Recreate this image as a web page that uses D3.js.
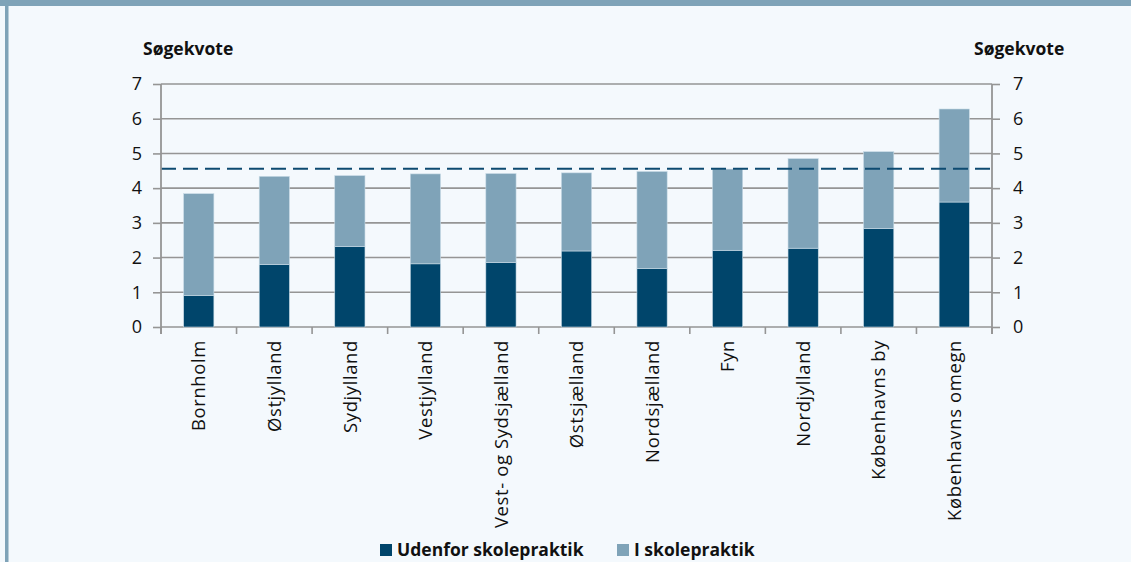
<!DOCTYPE html>
<html>
<head>
<meta charset="utf-8">
<script src="https://cdn.jsdelivr.net/npm/d3@7"></script>
<style>
  html, body { margin: 0; padding: 0; background: #f4f9fd; }
  svg { display: block; }
</style>
</head>
<body>
<svg id="chart" width="1131" height="562"></svg>
<script>
// data
const regions = ["Bornholm", "Østjylland", "Sydjylland", "Vestjylland", "Vest- og Sydsjælland",
  "Østsjælland", "Nordsjælland", "Fyn", "Nordjylland", "Københavns by", "Københavns omegn"];
const udenfor = [0.91, 1.80, 2.32, 1.82, 1.86, 2.19, 1.69, 2.21, 2.27, 2.84, 3.60];
const iSkole  = [2.93, 2.54, 2.04, 2.59, 2.56, 2.25, 2.79, 2.34, 2.58, 2.21, 2.68];
const gennemsnit = 4.56;
const yTicks = [0, 1, 2, 3, 4, 5, 6, 7];
const seriesNames = ["Udenfor skolepraktik", "I skolepraktik"];

const svg = d3.select("#chart");
const W = +svg.attr("width"), H = +svg.attr("height");
const margin = {top: 84, right: 139, bottom: 235, left: 161};
const iw = W - margin.left - margin.right;
const ih = H - margin.top - margin.bottom;

const dark = "#00456b", light = "#7fa3b8", gridCol = "#959595";
const tickFont = "'Open Sans', 'Noto Sans', sans-serif";

// frame: title band (cut off) and left border
svg.append("rect").attr("x", 0).attr("y", 0).attr("width", W).attr("height", 6).attr("fill", light);
svg.append("rect").attr("x", 5).attr("y", 0).attr("width", 3.5).attr("height", H).attr("fill", light);

const table = regions.map((r, i) => ({region: r, udenfor: udenfor[i], iSkole: iSkole[i]}));
const stack = d3.stack().keys(["udenfor", "iSkole"])(table);

const x = d3.scaleBand().domain(regions).range([0, iw]).paddingInner(0.6).paddingOuter(0.3);
const y = d3.scaleLinear().domain([0, 7]).range([ih, 0]);
const color = d3.scaleOrdinal().domain(["udenfor", "iSkole"]).range([dark, light]);

const g = svg.append("g").attr("transform", `translate(${margin.left},${margin.top})`);

// gridlines
g.append("g").selectAll("line").data(yTicks).join("line")
  .attr("x1", 0).attr("x2", iw)
  .attr("y1", d => y(d)).attr("y2", d => y(d))
  .attr("stroke", gridCol).attr("stroke-width", 1.6);

// bars
g.append("g").selectAll("g").data(stack).join("g")
  .attr("fill", d => color(d.key))
  .selectAll("rect").data(d => d).join("rect")
  .attr("x", d => x(d.data.region))
  .attr("width", x.bandwidth())
  .attr("y", d => y(d[1]))
  .attr("height", d => y(d[0]) - y(d[1]))
  .attr("stroke", "#c9dbe6").attr("stroke-width", 0.6);

// average line
g.append("line")
  .attr("x1", 0).attr("x2", iw)
  .attr("y1", y(gennemsnit)).attr("y2", y(gennemsnit))
  .attr("stroke", "#0d4a70").attr("stroke-width", 2)
  .attr("stroke-dasharray", "15,7");

// y axes
function styleAxis(sel) {
  sel.select(".domain").remove();
  sel.selectAll(".tick line").attr("stroke", gridCol).attr("stroke-width", 1.6);
  sel.selectAll(".tick text").attr("font-family", tickFont).attr("font-size", 18).attr("fill", "#111");
}
g.append("g")
  .call(d3.axisLeft(y).tickValues(yTicks).tickFormat(d3.format("d")).tickSize(8).tickPadding(11))
  .call(styleAxis);
g.append("g").attr("transform", `translate(${iw},0)`)
  .call(d3.axisRight(y).tickValues(yTicks).tickFormat(d3.format("d")).tickSize(8).tickPadding(13))
  .call(styleAxis);
g.append("line").attr("x1", 0).attr("x2", 0).attr("y1", 0).attr("y2", ih + 7)
  .attr("stroke", gridCol).attr("stroke-width", 1.8);
g.append("line").attr("x1", iw).attr("x2", iw).attr("y1", 0).attr("y2", ih + 7)
  .attr("stroke", gridCol).attr("stroke-width", 1.8);

// x axis: ticks at band edges
const edges = d3.range(regions.length + 1).map(i => i * iw / regions.length);
g.append("g").selectAll("line").data(edges).join("line")
  .attr("x1", d => d).attr("x2", d => d)
  .attr("y1", ih).attr("y2", ih + 7)
  .attr("stroke", gridCol).attr("stroke-width", 1.6);

g.append("g").selectAll("text").data(regions).join("text")
  .attr("transform", d => `translate(${x(d) + x.bandwidth() / 2},${ih + 13}) rotate(-90)`)
  .attr("text-anchor", "end")
  .attr("dy", "0.36em")
  .attr("font-family", tickFont).attr("font-size", 18.5).attr("letter-spacing", 0.6).attr("fill", "#111")
  .text(d => d);

// axis titles
[143, 974].forEach(px => {
  svg.append("text").attr("x", px).attr("y", 55)
    .attr("font-family", tickFont).attr("font-weight", 700).attr("font-size", 17.5).attr("fill", "#111")
    .text("Søgekvote");
});

// legend
const legendX = [380, 617];
const legend = svg.append("g").selectAll("g").data(seriesNames).join("g")
  .attr("transform", (d, i) => `translate(${legendX[i]},544)`);
legend.append("rect").attr("width", 12).attr("height", 12)
  .attr("fill", (d, i) => [dark, light][i]);
legend.append("text").attr("x", 17).attr("y", 12)
  .attr("font-family", tickFont).attr("font-weight", 700).attr("font-size", 17.5).attr("fill", "#111")
  .text(d => d);
</script>
</body>
</html>
